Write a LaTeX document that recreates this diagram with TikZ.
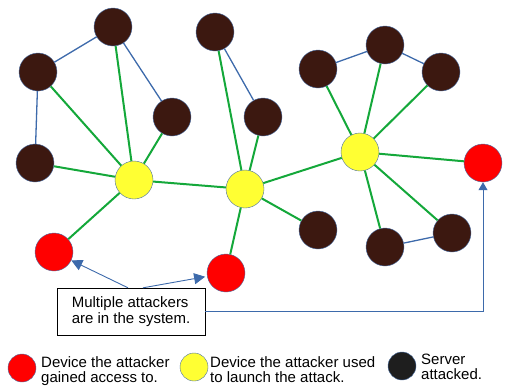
\documentclass[tikz,border=0pt]{standalone}
\usepackage{fontspec}
\setmainfont{Liberation Sans}
\usetikzlibrary{arrows.meta}
\definecolor{srv}{RGB}{60,24,16}
\definecolor{atk}{RGB}{255,255,51}
\definecolor{hit}{RGB}{255,0,0}
\definecolor{grn}{RGB}{20,168,58}
\definecolor{wire}{RGB}{61,106,171}
\definecolor{rim}{RGB}{74,111,165}
\definecolor{ink}{RGB}{30,30,30}
\tikzset{
  dev/.style={circle, draw=rim, thin, minimum size=38pt, inner sep=0pt},
  server/.style={dev, fill=srv},
  launch/.style={dev, fill=atk},
  victim/.style={dev, fill=hit},
  key/.style={circle, draw=rim, thin, minimum size=28pt, inner sep=0pt},
  hop/.style={grn, line width=2pt},
  peer/.style={wire, line width=1.3pt},
  call/.style={wire, line width=0.9pt, -{Triangle[length=11pt, width=11pt]}},
  lbl/.style={font=\fontsize{15}{15}\selectfont, align=left, inner sep=0pt},
}

\begin{document}
\begin{tikzpicture}[x=1pt, y=-1pt]
  \useasboundingbox (0,0) rectangle (505,386);
  % servers
  \node[server] (s1) at (113,27) {};
  \node[server] (s2) at (38,72) {};
  \node[server] (s3) at (35,163) {};
  \node[server] (s4) at (172,117) {};
  \node[server] (s5) at (215,32) {};
  \node[server] (s6) at (263,117) {};
  \node[server] (s7) at (318,69) {};
  \node[server] (s8) at (385,45) {};
  \node[server] (s9) at (441,72) {};
  \node[server] (s10) at (318,230) {};
  \node[server] (s11) at (385,247) {};
  \node[server] (s12) at (452,233) {};
  % launch devices
  \node[launch] (y1) at (134,180) {};
  \node[launch] (y2) at (245,189) {};
  \node[launch] (y3) at (360,152) {};
  % compromised devices
  \node[victim] (r1) at (54,252) {};
  \node[victim] (r2) at (226,273) {};
  \node[victim] (r3) at (483,163) {};
  % links
  \foreach \a/\b in {y1/s1, y1/s2, y1/s3, y1/s4, y1/y2, y1/r1, y2/s5, y2/s6,
                     y2/y3, y2/s10, y2/r2, y3/s7, y3/s8, y3/s9, y3/r3, y3/s11, y3/s12}
    \draw[hop] (\a) -- (\b);
  \foreach \a/\b in {s1/s2, s1/s4, s2/s3, s5/s6, s7/s8, s8/s9, s11/s12}
    \draw[peer] (\a) -- (\b);
  % callout
  \node[draw, thin, minimum width=148pt, minimum height=47pt, align=left,
        font=\fontsize{15}{15.5}\selectfont] (box) at (131,311.5)
    {Multiple attackers\\are in the system.};
  \draw[call] ([xshift=-3pt]box.north) -- (r1);
  \draw[call, shorten >=2pt] ([xshift=12pt]box.north) -- (r2);
  \draw[wire, line width=0.9pt, -{Triangle[length=8pt, width=9pt]}] (box.east) -| (r3.south);
  % legend
  \node[key, fill=hit] (k1) at (22,368) {};
  \node[lbl, anchor=north west] (t1) at (41,356) {Device the attacker\\gained access to.};
  \node[key, fill=atk] (k2) at (194,367) {};
  \node[lbl, anchor=north west] (t2) at (210,356) {Device the attacker used\\to launch the attack.};
  \node[key, fill=ink] (k3) at (402,366) {};
  \node[lbl, anchor=north west] (t3) at (421,354) {Server\\attacked.};
\end{tikzpicture}
\end{document}
